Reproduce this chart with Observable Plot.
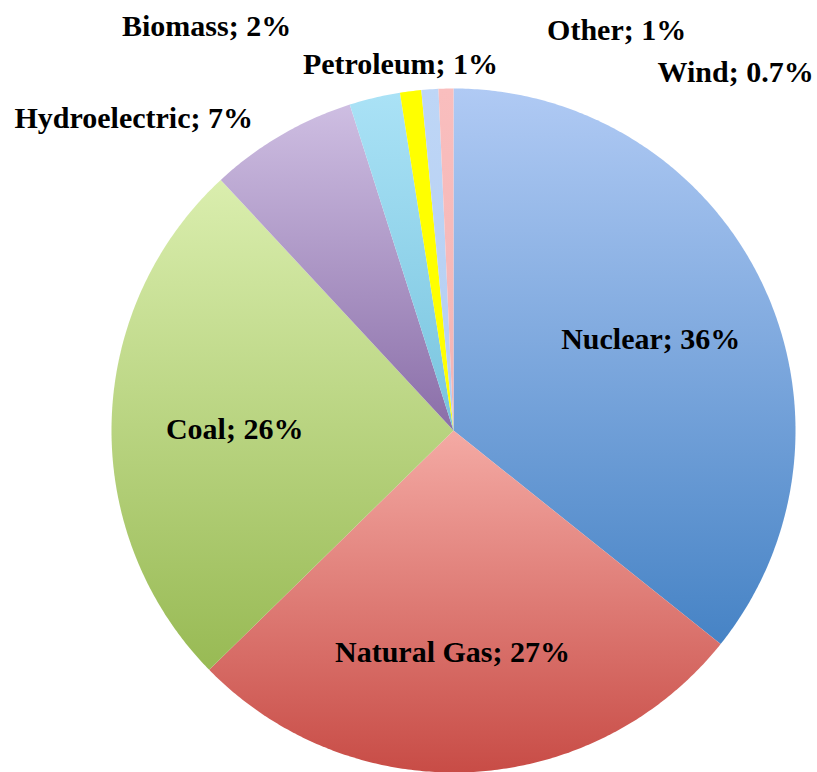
<!DOCTYPE html>
<html>
<head>
<meta charset="utf-8">
<script src="https://cdn.jsdelivr.net/npm/d3@7"></script>
<script src="https://cdn.jsdelivr.net/npm/@observablehq/plot@0.6"></script>
<style>
  html, body { margin: 0; padding: 0; background: #fff; }
  #chart svg { display: block; }
</style>
</head>
<body>
<div id="chart"></div>
<script>
// ---- data ----
const sources = ["Nuclear", "Natural Gas", "Coal", "Hydroelectric", "Biomass", "Petroleum", "Other", "Wind"];
// slice sizes (percent)
const shares = [35.7, 26.9, 25.4, 7.0, 2.4, 1.0, 0.8, 0.7];
// printed data labels
const shareLabels = ["36%", "27%", "26%", "7%", "2%", "1%", "1%", "0.7%"];

// ---- styles ----
const gradTop = ["#b0caf4", "#f4aaa4", "#daeeae", "#cebee2", "#aae2f6", "#ffff00", "#bed6f6", "#f9bebe"];
const gradBottom = ["#4683c5", "#c84c46", "#98ba54", "#8a6ea8", "#78c4de", "#ffff00", "#b4cef2", "#f4b4b4"];
const insideRadius = 0.64;
// placement of labels not at the default inside position, in pie units
const labelPlacement = {
  "Natural Gas": [-0.003, -0.648],
  "Hydroelectric": [-0.935, 0.912],
  "Biomass": [-0.722, 1.181],
  "Petroleum": [-0.155, 1.070],
  "Other": [0.477, 1.170],
  "Wind": [0.825, 1.047]
};

const W = 817, H = 772;
const cx = 453, cy = 430, R = 342;

const pie = d3.pie().sort(null).value(d => d.share).startAngle(0).endAngle(2 * Math.PI);
const rows = sources.map((s, i) => ({source: s, share: shares[i], label: `${s}; ${shareLabels[i]}`, i}));
const arcs = pie(rows);

function slicePolygon(a) {
  const pts = [{x: 0, y: 0}];
  const n = Math.max(2, Math.ceil((a.endAngle - a.startAngle) / (Math.PI / 360)));
  for (let k = 0; k <= n; ++k) {
    const t = a.startAngle + (a.endAngle - a.startAngle) * k / n;
    pts.push({x: Math.sin(t), y: Math.cos(t)});
  }
  pts.push({x: 0, y: 0});
  return pts;
}

const labels = arcs.map(a => {
  const mid = (a.startAngle + a.endAngle) / 2;
  const o = labelPlacement[a.data.source];
  return o
    ? {x: o[0], y: o[1], text: a.data.label}
    : {x: insideRadius * Math.sin(mid), y: insideRadius * Math.cos(mid) - 0.012, text: a.data.label};
});

const chart = Plot.plot({
  width: W,
  height: H,
  margin: 0,
  x: {domain: [-1, 1], range: [cx - R, cx + R], axis: null},
  y: {domain: [-1, 1], range: [cy + R, cy - R], axis: null},
  marks: [
    ...arcs.map((a, i) => Plot.line(slicePolygon(a), {
      x: "x", y: "y", fill: `url(#grad${i})`, stroke: "none", curve: "linear"
    })),
    Plot.text(labels, {
      x: "x", y: "y", text: "text",
      fontSize: 30, fontWeight: "bold", fontFamily: "Liberation Serif, serif",
      fill: "#000", textAnchor: "middle", lineAnchor: "middle"
    })
  ]
});

const svg = d3.select(chart);
svg.style("font-family", "Liberation Serif, serif").style("background", "#fff");
const defs = svg.insert("defs", ":first-child");
gradTop.forEach((c, i) => {
  const g = defs.append("linearGradient")
    .attr("id", `grad${i}`)
    .attr("x1", 0).attr("y1", 0).attr("x2", 0).attr("y2", 1);
  g.append("stop").attr("offset", "0%").attr("stop-color", c);
  g.append("stop").attr("offset", "100%").attr("stop-color", gradBottom[i]);
});

document.getElementById("chart").appendChild(chart);
</script>
</body>
</html>
